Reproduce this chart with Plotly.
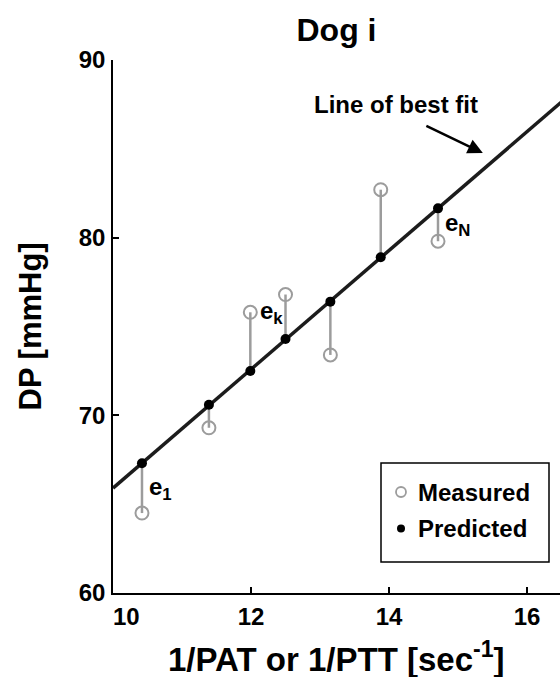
import numpy as np
import plotly.graph_objects as go

# Data
x_vals = [10.42, 11.39, 11.99, 12.50, 13.15, 13.88, 14.71]
measured = [64.5, 69.3, 75.8, 76.8, 73.4, 82.7, 79.8]
predicted = [67.3, 70.6, 72.5, 74.3, 76.4, 78.9, 81.65]
x_ticks = [10, 12, 14, 16]
y_ticks = [60, 70, 80, 90]
x_range = [10, 16.478]
y_range = [60, 90]
legend_names = ["Measured", "Predicted"]

FONT = "Liberation Sans, Arial, Helvetica, sans-serif"
GRAY = "#9c9c9c"
DARK = "#1c1c1c"

W, H = 560, 677
ML, MR, MT, MB = 113, 0, 60, 84
PW, PH = W - ML - MR, H - MT - MB  # 447 x 533

def px_x(p):  # screen pixel -> paper x
    return (p - ML) / PW

def px_y(p):  # screen pixel -> paper y
    return (H - MB - p) / PH

# Line of best fit through predicted values
slope, intercept = np.polyfit(x_vals, predicted, 1)
fit_x = np.array([x_range[0], x_range[1] + 0.2])
fit_y = slope * fit_x + intercept

# Residual stems
stem_x, stem_y = [], []
for xv, m, p in zip(x_vals, measured, predicted):
    stem_x += [xv, xv, None]
    stem_y += [p, m, None]

fig = go.Figure()
fig.add_trace(go.Scatter(x=stem_x, y=stem_y, mode="lines",
                         line=dict(color=GRAY, width=2.5), showlegend=False,
                         hoverinfo="skip"))
fig.add_trace(go.Scatter(x=fit_x, y=fit_y, mode="lines",
                         line=dict(color=DARK, width=3.5), showlegend=False))
fig.add_trace(go.Scatter(x=x_vals, y=measured, mode="markers", name=legend_names[0],
                         showlegend=False,
                         marker=dict(symbol="circle-open", size=13,
                                     color=GRAY, line=dict(width=2, color=GRAY))))
fig.add_trace(go.Scatter(x=x_vals, y=predicted, mode="markers", name=legend_names[1],
                         showlegend=False,
                         marker=dict(symbol="circle", size=10, color="black")))

def bold(size):
    return dict(family=FONT, size=size, color="black", weight="bold")

annotations = [
    dict(x=x_vals[0], y=(measured[0] + predicted[0]) / 2, text="e<sub>1</sub>",
         showarrow=False, xanchor="left", xshift=5, font=bold(24)),
    dict(x=x_vals[2], y=measured[2], text="e<sub>k</sub>",
         showarrow=False, xanchor="left", xshift=8, font=bold(24)),
    dict(x=x_vals[6], y=(measured[6] + predicted[6]) / 2, text="e<sub>N</sub>",
         showarrow=False, xanchor="left", xshift=5, font=bold(24)),
    dict(x=14.10, y=87.5, text="Line of best fit", showarrow=False, font=bold(24)),
    dict(x=15.36, y=84.76, text="", showarrow=True, ax=-58, ay=-28,
         arrowhead=2, arrowsize=1.2, arrowwidth=2.5, arrowcolor="black"),
    dict(x=10, y=0, xref="x", yref="paper", text="10", showarrow=False,
         xanchor="center", yanchor="middle", xshift=13, yshift=-23, font=bold(24)),
    dict(x=0.5, y=px_y(657), xref="paper", yref="paper",
         text="1/PAT or 1/PTT [sec<sup>-1</sup>]", showarrow=False,
         xanchor="center", yanchor="middle", font=bold(33)),
    dict(x=px_x(30), y=0.5, xref="paper", yref="paper",
         text="DP [mmHg]", showarrow=False, textangle=-90,
         xanchor="center", yanchor="middle", font=bold(31)),
    # legend text
    dict(x=px_x(416), y=px_y(492), xref="paper", yref="paper", text=legend_names[0],
         showarrow=False, xanchor="left", yanchor="middle", font=bold(24)),
    dict(x=px_x(416), y=px_y(528.5), xref="paper", yref="paper", text=legend_names[1],
         showarrow=False, xanchor="left", yanchor="middle", font=bold(24)),
]

shapes = [
    # legend box
    dict(type="rect", xref="paper", yref="paper",
         x0=px_x(381), x1=px_x(549), y0=px_y(562), y1=px_y(463),
         line=dict(color="black", width=1.5), fillcolor="white", layer="above"),
    # legend keys
    dict(type="circle", xref="paper", yref="paper", xsizemode="pixel", ysizemode="pixel",
         xanchor=px_x(401), yanchor=px_y(492), x0=-5, x1=5, y0=-5, y1=5,
         line=dict(color=GRAY, width=1.8), layer="above"),
    dict(type="circle", xref="paper", yref="paper", xsizemode="pixel", ysizemode="pixel",
         xanchor=px_x(401), yanchor=px_y(528.5), x0=-4, x1=4, y0=-4, y1=4,
         line=dict(color="black", width=0), fillcolor="black", layer="above"),
]

fig.update_layout(
    width=W, height=H,
    margin=dict(l=ML, r=MR, t=MT, b=MB),
    plot_bgcolor="white", paper_bgcolor="white",
    font=dict(family=FONT, color="black"),
    title=dict(text="Dog i", x=0.5, xref="paper", y=1 - 30 / H, yref="container",
               yanchor="middle", xanchor="center", font=bold(32)),
    xaxis=dict(range=x_range, tickvals=x_ticks, ticktext=["", "12", "14", "16"],
               ticks="inside", ticklen=6, tickwidth=1.5, tickcolor="black",
               showline=True, linecolor="black", linewidth=1.5, mirror=False,
               showgrid=False, zeroline=False, automargin=False,
               tickfont=bold(24), ticklabelstandoff=1),
    yaxis=dict(range=y_range, tickvals=y_ticks,
               ticks="inside", ticklen=6, tickwidth=1.5, tickcolor="black",
               showline=True, linecolor="black", linewidth=1.5, mirror=False,
               showgrid=False, zeroline=False, automargin=False,
               tickfont=bold(24), ticklabelstandoff=1),
    annotations=annotations,
    shapes=shapes,
    showlegend=False,
)

fig.write_html(
    "out.html",
    config={"displayModeBar": False},
    post_script="document.body.style.margin='0';document.body.style.overflow='hidden';",
)
